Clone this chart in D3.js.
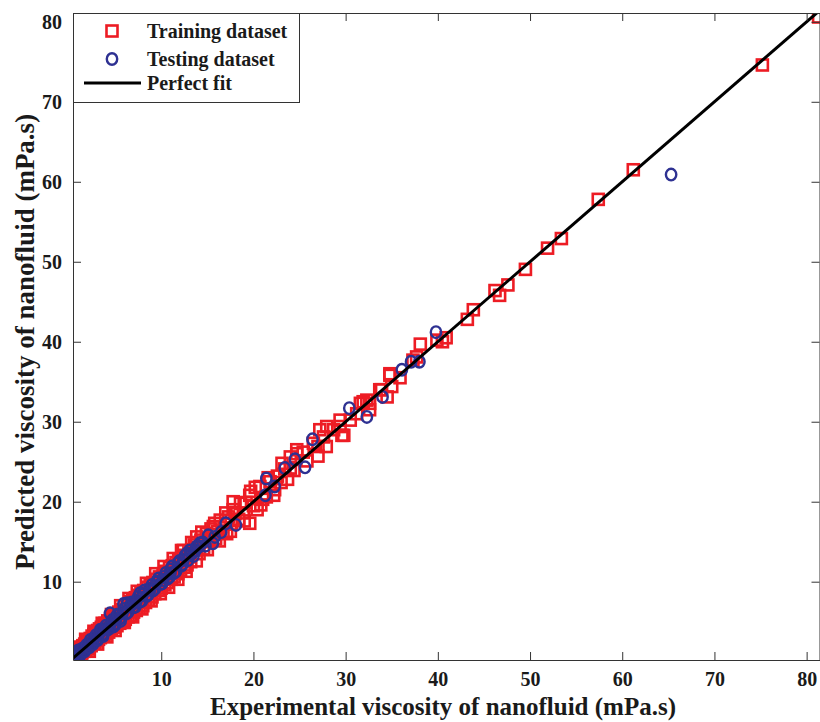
<!DOCTYPE html>
<html>
<head>
<meta charset="utf-8">
<script src="https://cdn.jsdelivr.net/npm/d3@7"></script>
<style>
  body { margin: 0; background: #fff; }
  text { font-family: "Liberation Serif", "Times New Roman", serif; font-weight: bold; fill: #1a1a1a; }
</style>
</head>
<body>
<script>
/* Data: [experimental, predicted] in mPa.s */
const trainingData = [
  [0.4,0.3],[0.5,0.8],[0.5,0.5],[0.6,0.4],[0.7,1.1],[0.8,0.6],[0.9,1.3],[1.0,0.7],[1.0,1.1],[1.1,1.5],
  [1.2,1.0],[1.3,1.8],[1.4,1.1],[1.5,2.0],[1.5,1.6],[1.6,1.3],[1.7,2.2],[1.8,1.5],[1.9,2.5],[2.0,1.6],
  [2.0,2.1],[2.1,2.7],[2.2,1.9],[2.3,2.9],[2.4,2.0],[2.5,3.2],[2.5,2.6],[2.6,2.3],[2.7,3.4],[2.8,2.4],
  [2.9,3.7],[3.0,2.6],[3.0,3.1],[3.1,3.9],[3.2,2.8],[3.3,4.1],[3.4,3.0],[3.5,4.3],[3.5,3.6],[3.6,3.2],
  [3.7,4.6],[3.8,3.3],[3.9,4.8],[4.0,3.5],[4.0,4.2],[4.2,5.1],[4.3,3.7],[4.5,5.4],[4.5,4.6],[4.6,4.0],
  [4.8,5.7],[4.9,4.3],[5.0,5.2],[5.1,6.0],[5.2,4.5],[5.4,6.2],[5.5,4.8],[5.5,5.6],[5.7,6.5],[5.8,5.1],
  [6.0,6.9],[6.0,6.1],[6.1,5.3],[6.3,7.1],[6.4,5.6],[6.5,6.6],[6.6,7.5],[6.7,5.8],[6.9,7.8],[7.0,6.2],
  [7.0,7.2],[7.2,8.0],[7.3,6.4],[7.5,8.3],[7.5,7.6],[7.6,6.7],[7.8,8.6],[8.0,7.0],[8.0,8.2],[8.1,8.9],
  [8.3,7.4],[8.5,9.3],[8.5,8.6],[8.6,7.7],[8.8,9.6],[9.0,8.1],[9.0,9.2],[9.1,9.9],[9.3,8.5],[9.5,10.3],
  [9.5,9.5],[9.7,8.9],[9.8,10.6],[10.0,9.2],[10.0,10.2],[10.2,11.0],[10.4,9.6],[10.5,11.3],[10.5,10.6],[10.7,9.9],
  [10.9,11.8],[11.0,11.2],[11.1,10.3],[11.2,12.0],[11.4,10.6],[11.5,11.5],[11.6,12.4],[11.8,11.0],[11.9,12.7],[12.0,12.2],
  [12.1,11.4],[12.3,13.0],[12.4,13.9],[12.5,11.8],[12.5,12.6],[12.6,13.3],[12.8,12.1],[13.0,13.6],[13.0,13.1],[13.2,12.5],
  [0.9,1.8],[1.3,0.6],[1.8,2.8],[2.2,1.3],[2.7,3.8],[3.1,2.2],[3.6,4.8],[4.1,3.1],[4.6,5.9],[5.0,3.9],
  [5.6,7.0],[6.0,4.9],[6.5,7.9],[6.9,5.6],[7.4,8.8],[7.9,6.6],[8.4,9.8],[8.9,7.6],[9.4,11.0],[9.9,8.5],
  [10.3,11.9],[10.8,9.3],[11.3,12.9],[11.8,10.3],[12.2,13.9],[12.7,11.3],[13.3,14.9],[13.8,12.6],[14.4,16.2],[15.0,14.0],
  [15.8,17.3],[16.3,15.1],[17.0,18.6],[17.5,16.3],[18.6,19.8],[19.0,17.6],[20.2,21.8],[20.8,19.6],[21.6,23.0],[22.2,20.8],
  [23.1,24.8],[23.7,22.8],
  [13.4,14.0],[13.6,14.6],[13.85,15.6],[14.1,13.5],[14.3,15.2],[14.6,14.1],[14.9,16.0],[15.2,15.0],[15.4,16.6],[15.65,16.9],
  [15.9,15.4],[16.1,16.3],[16.4,17.7],[16.7,16.1],[17.1,16.0],[17.3,18.1],[17.6,17.2],[17.8,19.0],[17.8,20.0],[18.0,18.5],
  [18.4,17.8],[18.9,18.6],[19.2,19.9],[19.6,17.3],[19.6,20.8],[19.7,21.3],[20.0,19.5],[20.4,19.0],[20.7,21.9],[21.0,20.3],
  [21.4,20.6],[21.8,22.5],[22.3,21.5],[22.6,23.2],[23.0,22.4],[23.4,24.1],[24.0,24.2],[24.0,25.6],[24.4,23.9],[24.7,26.0],
  [24.7,26.5],[25.4,26.2],[25.8,25.1],[26.5,27.3],[27.0,26.9],[27.0,25.7],[27.2,29.0],[27.6,28.1],[27.9,26.9],[27.95,29.4],
  [28.7,29.0],[29.4,30.2],[29.4,29.4],[29.6,28.3],[29.8,28.3],[30.5,30.2],[31.2,31.0],[31.6,32.3],[31.9,32.5],[32.3,32.7],
  [32.6,31.5],[32.6,32.3],[33.7,34.0],[33.9,34.0],[34.5,33.1],[34.8,36.0],[34.8,35.8],[35.0,34.4],[35.9,35.5],[37.3,37.7],
  [37.7,38.1],[38.1,39.7],[39.9,40.2],[40.5,40.0],[40.9,40.5],[43.2,42.8],[43.85,44.0],[46.2,46.4],[46.7,45.8],[47.6,47.1],
  [49.5,49.05],[51.9,51.7],[53.4,52.9],[57.4,57.8],[61.2,61.5],[75.2,74.6],[81.3,80.6]
]

const testingData = [
  [0.5,0.4],[0.7,0.8],[0.9,0.7],[1.1,1.2],[1.3,1.1],[1.6,1.7],[1.8,1.6],[2.1,2.2],[2.4,2.3],[2.7,2.9],
  [3.0,2.8],[3.3,3.5],[3.4,4.0],[3.6,3.4],[3.9,4.1],[4.2,4.0],[4.45,6.05],[4.5,4.8],[4.8,4.4],[4.8,4.6],
  [5.1,5.3],[5.2,5.8],[5.5,5.4],[5.8,6.1],[5.9,7.2],[6.2,6.0],[6.3,7.3],[6.6,6.9],[7.0,6.8],[7.0,7.3],
  [7.3,7.6],[7.7,7.5],[7.7,8.55],[8.0,8.4],[8.4,8.2],[8.7,9.1],[8.8,9.0],[9.1,8.9],[9.5,9.9],[9.5,10.0],
  [9.9,9.7],[10.2,10.2],[10.3,10.6],[10.7,10.4],[11.0,11.5],[11.0,11.05],[11.4,11.1],[11.8,12.3],[12.2,12.0],[12.4,12.7],
  [12.6,13.3],[12.8,13.55],[12.9,12.7],[13.3,13.5],[13.7,13.9],[13.85,14.4],[14.1,14.4],[14.2,14.8],[14.5,14.9],[14.8,14.5],
  [0.6,0.9],[0.8,0.5],[1.0,1.4],[1.2,0.8],[1.4,1.6],[1.7,1.3],[1.9,2.1],[2.2,1.8],[2.3,2.7],[2.6,2.2],
  [2.9,3.3],[3.1,2.7],[3.5,3.9],[3.7,3.2],[4.0,4.5],[4.4,4.2],[4.7,5.2],[5.0,4.6],[5.3,5.9],[5.6,5.1],
  [6.0,6.6],[6.4,6.2],[6.8,7.4],[7.2,6.9],[7.5,8.1],[7.9,7.6],[8.2,8.9],[8.6,8.4],[9.0,9.6],[9.3,9.1],
  [9.7,10.4],[10.1,9.8],[10.5,11.1],[10.9,10.6],[11.2,11.9],[11.6,11.3],[12.0,12.6],[12.3,12.2],[13.1,13.9],[13.5,13.2],
  [15.1,15.8],[15.6,14.8],[15.8,15.6],[16.5,16.2],[17.0,17.3],[18.1,17.1],[21.3,20.8],[21.4,22.9],[22.3,21.9],[23.4,24.2],
  [24.5,25.3],[25.6,24.3],[26.4,27.8],[30.4,31.7],[32.3,30.6],[34.0,33.1],[36.1,36.5],[37.1,37.5],[38.0,37.5],[39.8,41.2],
  [65.3,60.9]
]

const perfectFit = [[0.4, 0.4], [81.5, 81.5]]

const xTicks = [10, 20, 30, 40, 50, 60, 70, 80]
const yTicks = [10, 20, 30, 40, 50, 60, 70, 80]

const legendLabels = ["Training dataset", "Testing dataset", "Perfect fit"]

/* Define svg-size. */
const width = 820
const height = 722
const margin = { top: 13, right: 0, bottom: 62, left: 73 }

const red = "#ed1c24"
const blue = "#2e3192"

/* Create svg-element. */
const svg = d3.select("body")
  .append("svg")
  .attr("width", width)
  .attr("height", height)

/* Define scales. */
const x = d3.scaleLinear()
  .domain([0.43, 81.45])
  .range([margin.left, width - margin.right])

const y = d3.scaleLinear()
  .domain([0.21, 81.1])
  .range([height - margin.bottom, margin.top])

/* Clip for the plot box. */
svg.append("clipPath")
  .attr("id", "clip")
  .append("rect")
  .attr("x", margin.left)
  .attr("y", margin.top)
  .attr("width", width - margin.left - margin.right)
  .attr("height", height - margin.top - margin.bottom)

const plot = svg.append("g").attr("clip-path", "url(#clip)")

/* Training squares. */
const sq = 11
plot.append("g")
  .selectAll("rect")
  .data(trainingData)
  .enter()
  .append("rect")
  .attr("x", d => x(d[0]) - sq / 2)
  .attr("y", d => y(d[1]) - sq / 2)
  .attr("width", sq)
  .attr("height", sq)
  .attr("fill", "none")
  .attr("stroke", red)
  .attr("stroke-width", 2.6)

/* Testing circles. */
plot.append("g")
  .selectAll("ellipse")
  .data(testingData)
  .enter()
  .append("ellipse")
  .attr("cx", d => x(d[0]))
  .attr("cy", d => y(d[1]))
  .attr("rx", 5.2)
  .attr("ry", 5.8)
  .attr("fill", "none")
  .attr("stroke", blue)
  .attr("stroke-width", 2.4)

/* Perfect fit line. */
const line = d3.line()
  .x(d => x(d[0]))
  .y(d => y(d[1]))

plot.append("path")
  .datum(perfectFit)
  .attr("d", line)
  .attr("fill", "none")
  .attr("stroke", "#000")
  .attr("stroke-width", 3)

/* Axes, ticks pointing inward like MATLAB. */
const axisColor = "#333"

const styleAxis = (g) => {
  g.select(".domain").attr("stroke", axisColor)
  g.selectAll(".tick line").attr("stroke", axisColor)
  g.selectAll(".tick text")
    .attr("fill", "#1a1a1a")
    .style("font-size", "20px")
    .style("font-family", "'Liberation Serif', serif")
    .style("font-weight", "bold")
}

svg.append("g")
  .attr("transform", `translate(0,${height - margin.bottom})`)
  .call(d3.axisBottom(x).tickValues(xTicks).tickSizeInner(-8).tickSizeOuter(0).tickPadding(12))
  .call(styleAxis)

svg.append("g")
  .attr("transform", `translate(0,${margin.top})`)
  .call(d3.axisTop(x).tickValues(xTicks).tickSizeInner(-8).tickSizeOuter(0).tickFormat(""))
  .call(styleAxis)

svg.append("g")
  .attr("transform", `translate(${margin.left},0)`)
  .call(d3.axisLeft(y).tickValues(yTicks).tickSizeInner(-8).tickSizeOuter(0).tickPadding(11))
  .call(styleAxis)

svg.append("g")
  .attr("transform", `translate(${width - margin.right - 0.5},0)`)
  .call(d3.axisRight(y).tickValues(yTicks).tickSizeInner(-8).tickSizeOuter(0).tickFormat(""))
  .call(styleAxis)

/* Axis titles. */
svg.append("text")
  .attr("x", 443)
  .attr("y", 715)
  .attr("text-anchor", "middle")
  .style("font-size", "25px")
  .text("Experimental viscosity of nanofluid (mPa.s)")

svg.append("text")
  .attr("transform", "translate(34,342) rotate(-90)")
  .attr("text-anchor", "middle")
  .style("font-size", "27px")
  .text("Predicted viscosity of nanofluid (mPa.s)")

/* Legend. */
const legend = svg.append("g")

legend.append("rect")
  .attr("x", margin.left + 0.5)
  .attr("y", margin.top + 0.5)
  .attr("width", 226)
  .attr("height", 89)
  .attr("fill", "#fff")
  .attr("stroke", axisColor)

const rowY = [31, 59, 83]

legend.append("rect")
  .attr("x", 112 - sq / 2)
  .attr("y", rowY[0] - sq / 2)
  .attr("width", sq)
  .attr("height", sq)
  .attr("fill", "none")
  .attr("stroke", red)
  .attr("stroke-width", 2.6)

legend.append("ellipse")
  .attr("cx", 112)
  .attr("cy", rowY[1])
  .attr("rx", 5.2)
  .attr("ry", 5.8)
  .attr("fill", "none")
  .attr("stroke", blue)
  .attr("stroke-width", 2.4)

legend.append("line")
  .attr("x1", 84)
  .attr("x2", 141)
  .attr("y1", rowY[2])
  .attr("y2", rowY[2])
  .attr("stroke", "#000")
  .attr("stroke-width", 3)

legend.selectAll("text.lab")
  .data(legendLabels)
  .enter()
  .append("text")
  .attr("class", "lab")
  .attr("x", 147)
  .attr("y", (d, i) => rowY[i] + 7)
  .style("font-size", "20px")
  .text(d => d)
</script>
</body>
</html>
